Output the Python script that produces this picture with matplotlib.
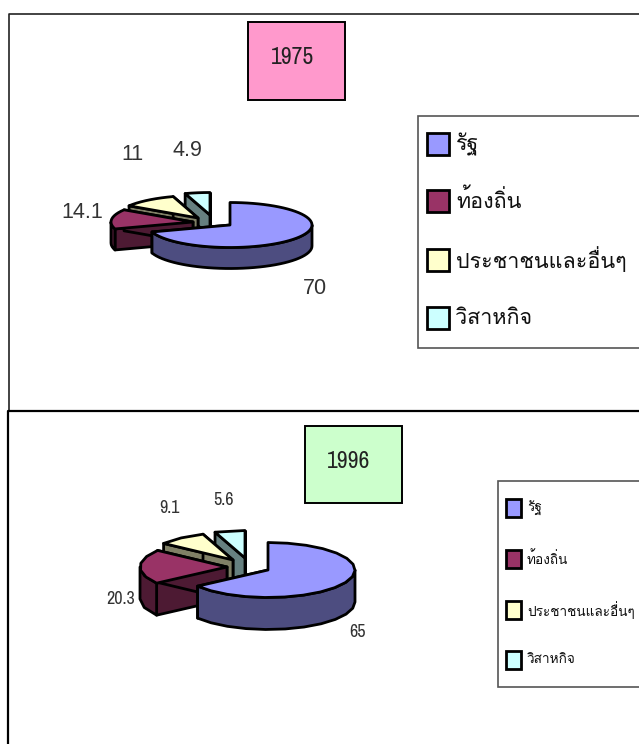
import numpy as np
import matplotlib
matplotlib.use('Agg')
import matplotlib.pyplot as plt
from matplotlib.patches import Polygon, Rectangle

categories = ['รัฐ', 'ท้องถิ่น', 'ประชาชนและอื่นๆ', 'วิสาหกิจ']
values_1975 = [70, 14.1, 11, 4.9]
values_1996 = [65, 20.3, 9.1, 5.6]
labels_1975 = ['70', '14.1', '11', '4.9']
labels_1996 = ['65', '20.3', '9.1', '5.6']

top_colors = ['#9999FF', '#993366', '#FFFFCC', '#CCFFFF']
side_colors = ['#4D4D80', '#4D1A33', '#808066', '#668080']

THAI = ['Loma', 'Sarabun', 'DejaVu Sans']
NARROW = ['Archivo Narrow', 'Liberation Sans']


def arc(cx, cy, a, b, start, end, step):
    # angles run clockwise from 12 o'clock, in degrees
    n = max(2, int(abs(end - start) / step) + 1)
    t = np.radians(np.linspace(start, end, n))
    return np.column_stack([cx + a * np.sin(t), cy - b * np.cos(t)])


def draw_pie(ax, values, apexes, a, b, depth, step, lw=2):
    ends = np.cumsum(values) / np.sum(values) * 360
    starts = np.r_[0, ends[:-1]]
    # back slices first, the big one goes on top
    for i in range(len(values) - 1, -1, -1):
        cx, cy = apexes[i]
        top = arc(cx, cy, a, b, starts[i], ends[i], step)
        down = np.array([0, depth])
        apex = np.array([cx, cy])
        for p in (top[0], top[-1]):
            face = [p, apex, apex + down, p + down]
            ax.add_patch(Polygon(face, fc=side_colors[i], ec='black', lw=lw, joinstyle='round'))
        lo, hi = max(starts[i], 90), min(ends[i], 270)
        if hi > lo:
            rim = arc(cx, cy, a, b, lo, hi, step)
            ax.add_patch(Polygon(np.vstack([rim, rim[::-1] + down]), fc=side_colors[i],
                                 ec='black', lw=lw, joinstyle='round'))
        ax.add_patch(Polygon(np.vstack([apex, top]), fc=top_colors[i], ec='black', lw=lw,
                             joinstyle='round'))


def draw_legend(ax, box, swatch_x, swatch_w, swatch_ys, swatch_h, text_x, fontsize):
    ax.add_patch(Rectangle((box[0], box[1]), box[2], box[3], fc='white', ec='#555555', lw=1.2))
    for y, color, name in zip(swatch_ys, top_colors, categories):
        ax.add_patch(Rectangle((swatch_x, y), swatch_w, swatch_h, fc=color, ec='black', lw=2))
        ax.text(text_x, y + swatch_h / 2, name, family=THAI, fontsize=fontsize,
                ha='left', va='center', color='#111111')


fig = plt.figure(figsize=(6.39, 7.44), dpi=100)
ax = fig.add_axes([0, 0, 1, 1])
ax.set_xlim(0, 639)
ax.set_ylim(744, 0)
ax.axis('off')

# panel frames
ax.plot([9, 9, 639], [411, 14, 14], color='#222222', lw=1.2)
ax.plot([8, 8, 639], [744, 411, 411], color='black', lw=1.6)

# 1975
ax.add_patch(Rectangle((248, 22), 97, 78, fc='#FF99CC', ec='black', lw=1.4))
ax.text(292, 58, '1975', family=NARROW, fontsize=17, ha='center', va='center', color='#222222')
draw_pie(ax, values_1975, [(230, 225), (193, 222), (198, 218), (210, 215)], 82, 22.5, 21, 4)
for (x, y), s in zip([(315, 289), (82, 212), (132, 155), (187, 150)], labels_1975):
    ax.text(x, y, s, family='Liberation Sans', fontsize=15.5, ha='center', va='center', color='#333333')
draw_legend(ax, (418, 116, 230, 232), 427, 22, [133, 190, 249, 307], 22, 456, 15.5)

# 1996
ax.add_patch(Rectangle((305, 426), 97, 77, fc='#CCFFCC', ec='black', lw=1.4))
ax.text(349, 462, '1996', family=NARROW, fontsize=17, ha='center', va='center', color='#222222')
draw_pie(ax, values_1996, [(268, 570), (227, 567), (233, 560), (245, 558)], 87, 27.5, 32, 13)
for (x, y), s in zip([(357, 632), (121, 599), (169, 508), (224, 500)], labels_1996):
    ax.text(x, y, s, family=NARROW, fontsize=13, ha='center', va='center', color='#333333')
draw_legend(ax, (498, 481, 150, 206), 506, 15, [499, 550, 601, 651], 18, 527, 9.8)

fig.savefig('out.png', dpi=100)
